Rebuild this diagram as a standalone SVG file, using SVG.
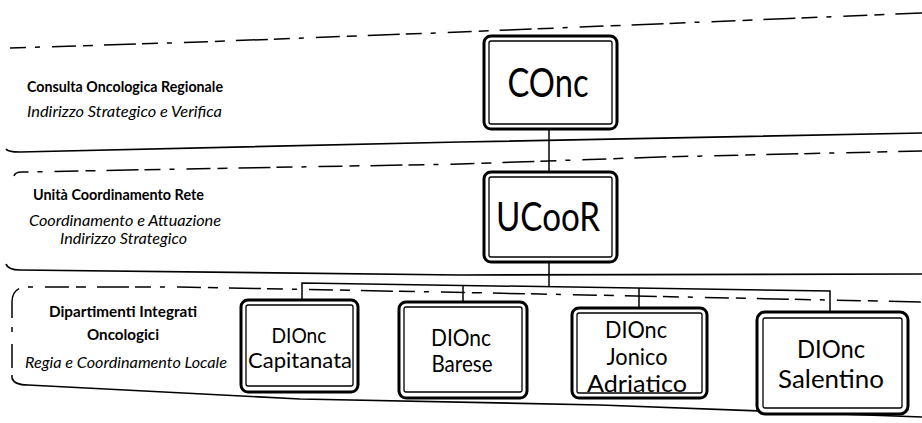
<svg xmlns="http://www.w3.org/2000/svg" width="922" height="423" viewBox="0 0 922 423">
<style>
.band{fill:none;stroke:#000;stroke-width:1.7}
.dash{fill:none;stroke:#000;stroke-width:1.5;stroke-dasharray:16 9 5 12 24 7 10 11 32 6}
.outer{fill:#fff;stroke:#000;stroke-width:3}
.inner{fill:none;stroke:#000;stroke-width:1.3}
.conn{fill:none;stroke:#000;stroke-width:1.5}
.lb{font-family:Lato,"Liberation Sans",sans-serif;font-size:16px;font-weight:bold;fill:#000}
.li{font-family:Lato,"Liberation Sans",sans-serif;font-size:16px;font-style:italic;fill:#000}
.big{font-family:Lato,"Liberation Sans",sans-serif;font-size:41px;fill:#000;text-anchor:middle}
.bt{font-family:Lato,"Liberation Sans",sans-serif;fill:#000;text-anchor:middle}
</style>
<rect width="922" height="423" fill="#fff"/>
<g id="bands">
<path class="dash" d="M10,48 L200,42 L460,32 L922,13"/>
<path class="band" d="M6,149 Q8,152 20,152 L460,142 L922,133"/>
<path class="dash" d="M14,176 Q15,172 22,172 L460,164 L660,157 L922,151"/>
<path class="band" d="M6,264 Q8,270 20,270 L460,275 L922,274"/>
<path class="dash" d="M12,302 Q12,288 26,287 L180,287 L540,294 L922,302"/>
<path class="dash" d="M12,302 V378"/>
<path class="band" d="M12,378 Q14,385 28,385 L300,399 L600,405 L922,417"/>
</g>
<g id="labels">
<text class="lb" x="27" y="92" textLength="196" lengthAdjust="spacingAndGlyphs">Consulta Oncologica Regionale</text>
<text class="li" x="27" y="117" textLength="195" lengthAdjust="spacingAndGlyphs">Indirizzo Strategico e Verifica</text>
<text class="lb" x="33" y="200" textLength="171" lengthAdjust="spacingAndGlyphs">Unità Coordinamento Rete</text>
<text class="li" x="29" y="226" textLength="192" lengthAdjust="spacingAndGlyphs">Coordinamento e Attuazione</text>
<text class="li" x="60" y="244" textLength="127" lengthAdjust="spacingAndGlyphs">Indirizzo Strategico</text>
<text class="lb" x="49" y="317" textLength="148" lengthAdjust="spacingAndGlyphs">Dipartimenti Integrati</text>
<text class="lb" x="87" y="340" textLength="72" lengthAdjust="spacingAndGlyphs">Oncologici</text>
<text class="li" x="25" y="368" textLength="202" lengthAdjust="spacingAndGlyphs">Regia e Coordinamento Locale</text>
</g>
<g id="connectors">
<path class="conn" d="M549,129 V172"/>
<path class="conn" d="M549,262 V286.7"/>
<path class="conn" d="M302,300 V283 L830,291 V312"/>
<path class="conn" d="M463,285.4 V302"/>
<path class="conn" d="M639,288.1 V308"/>
</g>
<g id="conc">
<rect class="outer" x="484" y="36" width="133" height="93" rx="7"/>
<rect class="inner" x="489" y="41" width="123" height="83" rx="2"/>
<text class="big" x="548" y="97" textLength="81" lengthAdjust="spacingAndGlyphs">COnc</text>
</g>
<g id="ucoor">
<rect class="outer" x="484" y="172" width="133" height="90" rx="7"/>
<rect class="inner" x="489" y="177" width="123" height="80" rx="2"/>
<text class="big" x="548" y="231" textLength="104" lengthAdjust="spacingAndGlyphs">UCooR</text>
</g>
<g id="capitanata">
<rect class="outer" x="241" y="300" width="117" height="92" rx="7"/>
<rect class="inner" x="246" y="305" width="107" height="81" rx="2"/>
<text class="bt" font-size="22" x="299" y="343" textLength="55" lengthAdjust="spacingAndGlyphs">DIOnc</text>
<text class="bt" font-size="22" x="300" y="368" textLength="104" lengthAdjust="spacingAndGlyphs">Capitanata</text>
</g>
<g id="barese">
<rect class="outer" x="399" y="302" width="128" height="96" rx="7"/>
<rect class="inner" x="404" y="307" width="118" height="85" rx="2"/>
<text class="bt" font-size="23" x="461" y="346" textLength="60" lengthAdjust="spacingAndGlyphs">DIOnc</text>
<text class="bt" font-size="23" x="462" y="372" textLength="61" lengthAdjust="spacingAndGlyphs">Barese</text>
</g>
<g id="jonico">
<rect class="outer" x="572" y="308" width="135" height="90" rx="7"/>
<rect class="inner" x="577" y="313" width="125" height="80" rx="2"/>
<text class="bt" font-size="23" x="636" y="338" textLength="62" lengthAdjust="spacingAndGlyphs">DIOnc</text>
<text class="bt" font-size="23" x="637" y="365" textLength="61" lengthAdjust="spacingAndGlyphs">Jonico</text>
<text class="bt" font-size="23" x="637" y="392" textLength="100" lengthAdjust="spacingAndGlyphs">Adriatico</text>
</g>
<g id="salentino">
<rect class="outer" x="757" y="312" width="151" height="102" rx="8"/>
<rect class="inner" x="763" y="318" width="139" height="90" rx="2"/>
<text class="bt" font-size="25" x="831" y="358" textLength="68" lengthAdjust="spacingAndGlyphs">DIOnc</text>
<text class="bt" font-size="25" x="831" y="388" textLength="106" lengthAdjust="spacingAndGlyphs">Salentino</text>
</g>
</svg>
